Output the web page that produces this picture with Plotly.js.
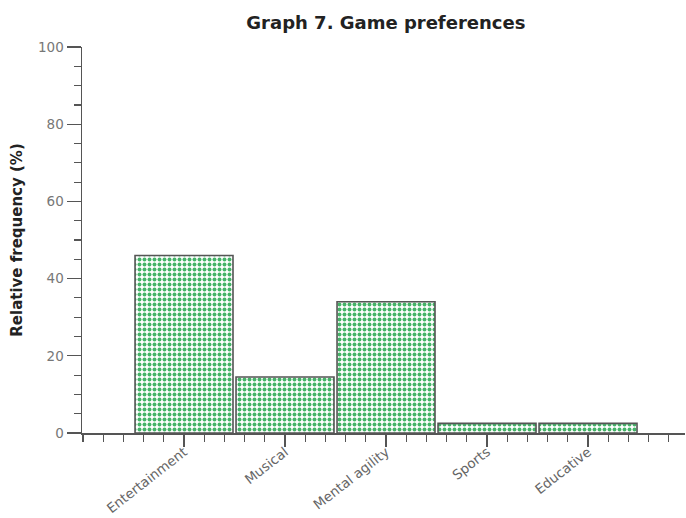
<!DOCTYPE html>
<html>
<head>
<meta charset="utf-8">
<script src="https://cdn.plot.ly/plotly-3.0.1.min.js"></script>
<style>html,body{margin:0;padding:0;background:#fff;}#chart{width:686px;height:518px;}</style>
</head>
<body>
<div id="chart"></div>
<script>
const categories = ["Entertainment", "Musical", "Mental agility", "Sports", "Educative"];
const frequencies = [46, 14.5, 34, 2.5, 2.5];
const positions = [0, 1, 2, 3, 4];
const yTicks = [0, 20, 40, 60, 80, 100];

const xRange = [-1.01, 4.96];

const trace = {
  type: "bar",
  x: positions,
  y: frequencies,
  width: 0.97,
  marker: {
    color: "#ffffff",
    line: {color: "#555555", width: 1.6},
    pattern: {shape: ".", fgcolor: "#45b368", bgcolor: "#ffffff", size: 5, solidity: 0.5}
  },
  hoverinfo: "x+y"
};

// invisible helper trace to attach the labelled category axis
const labelTrace = {
  type: "scatter", mode: "markers",
  x: positions, y: frequencies,
  xaxis: "x2", yaxis: "y",
  marker: {opacity: 0}, hoverinfo: "skip"
};

const layout = {
  width: 686, height: 518,
  margin: {l: 82, r: 1, t: 47, b: 85},
  paper_bgcolor: "#fff", plot_bgcolor: "#fff",
  showlegend: false,
  font: {family: "DejaVu Sans", color: "#555"},
  title: {
    text: "<b>Graph 7. Game preferences</b>",
    font: {family: "DejaVu Sans", size: 18, color: "#222"},
    x: 0.5625, xanchor: "center", y: 0.957, yanchor: "middle"
  },
  xaxis: {
    range: xRange,
    tickmode: "linear", tick0: 0, dtick: 0.2,
    showticklabels: false,
    ticks: "outside", ticklen: 7, tickwidth: 1.2, tickcolor: "#555",
    showline: true, linecolor: "#555", linewidth: 1.5,
    showgrid: false, zeroline: false
  },
  xaxis2: {
    overlaying: "x", side: "bottom", anchor: "y",
    range: xRange,
    tickmode: "array",
    tickvals: positions,
    ticktext: categories,
    tickangle: -38,
    ticks: "outside", ticklen: 13, tickwidth: 1.2, tickcolor: "#555",
    ticklabelstandoff: -8,
    showline: false, showgrid: false, zeroline: false,
    tickfont: {family: "DejaVu Sans", size: 13.5, color: "#666"}
  },
  yaxis: {
    range: [0, 100],
    tickvals: yTicks,
    ticks: "outside", ticklen: 14, tickwidth: 1.2, tickcolor: "#555",
    minor: {dtick: 5, ticks: "outside", ticklen: 7, tickwidth: 1.2, tickcolor: "#555"},
    showline: true, linecolor: "#555", linewidth: 1.5,
    showgrid: false, zeroline: false,
    tickfont: {family: "DejaVu Sans", size: 13.5, color: "#777"},
    title: {text: "<b>Relative frequency (%)</b>", font: {family: "DejaVu Sans", size: 15, color: "#222"}, standoff: 12}
  }
};

Plotly.newPlot("chart", [trace, labelTrace], layout, {displayModeBar: false, staticPlot: true});
</script>
</body>
</html>
